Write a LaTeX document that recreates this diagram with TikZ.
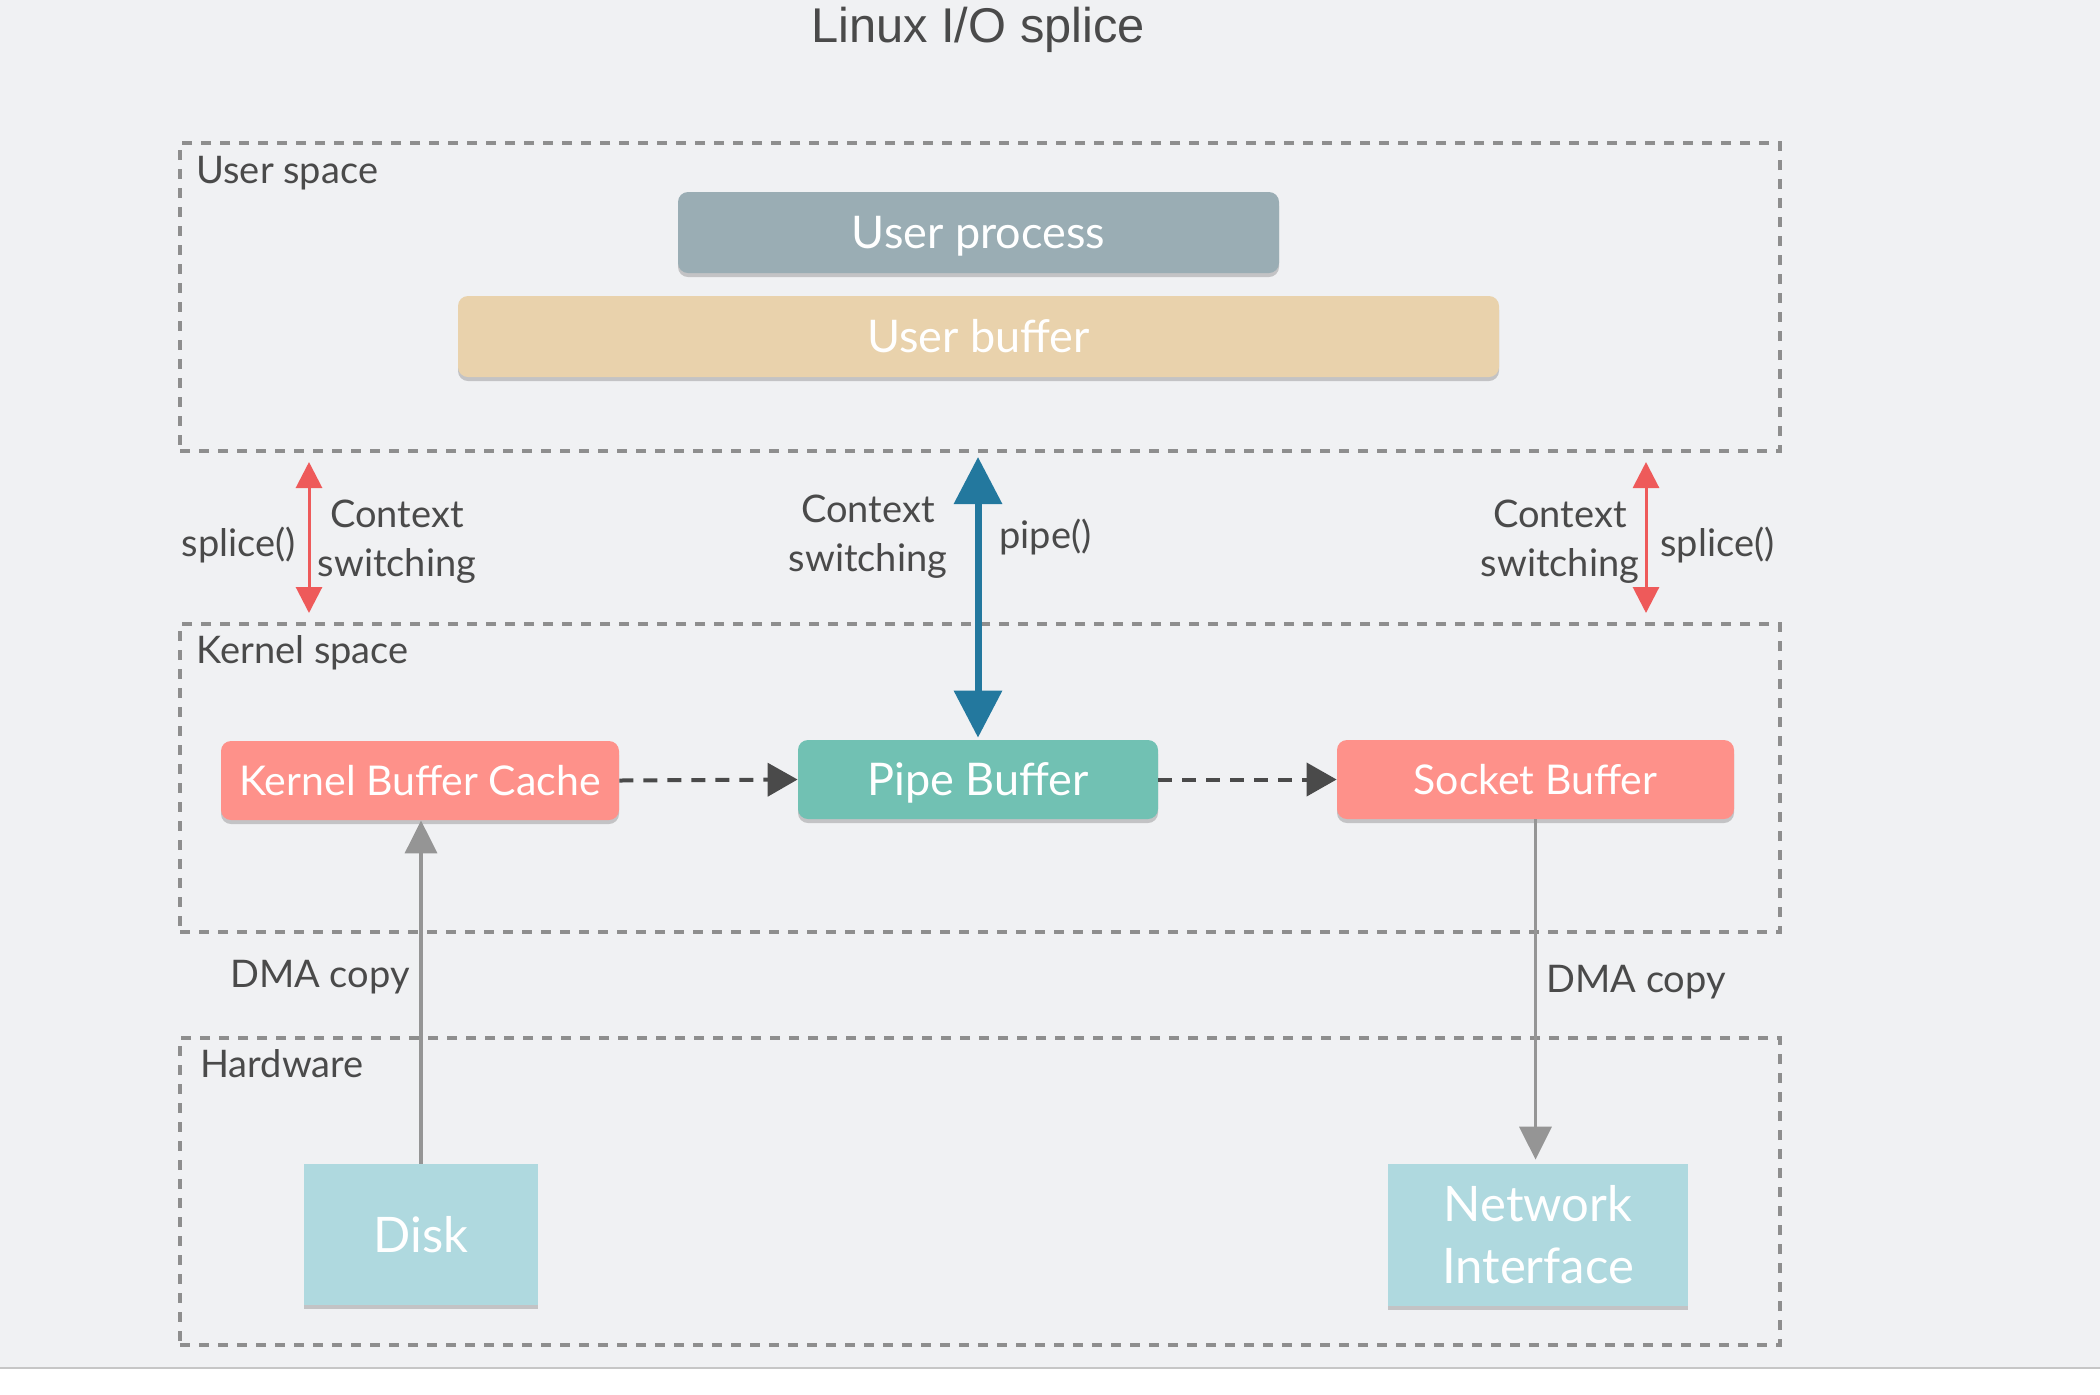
\documentclass[tikz,border=0pt]{standalone}
\usepackage{fontspec}
\setmainfont{Lato}
\newfontfamily\titlefont{Liberation Sans}
\usetikzlibrary{arrows.meta,shadows}

\definecolor{bgcol}{HTML}{F0F1F3}
\definecolor{framecol}{HTML}{8E8E8E}
\definecolor{txtcol}{HTML}{4A4A4A}
\definecolor{procol}{HTML}{9AADB4}
\definecolor{ubufcol}{HTML}{E9D2AC}
\definecolor{kbufcol}{HTML}{FE918A}
\definecolor{pipecol}{HTML}{71C1B3}
\definecolor{hwcol}{HTML}{AFD9DF}
\definecolor{ctxcol}{HTML}{EE5A5A}
\definecolor{pipearrcol}{HTML}{23789E}
\definecolor{dmacol}{HTML}{959595}
\definecolor{flowcol}{HTML}{4A4A4A}

\tikzset{
  region/.style={draw=framecol, line width=2pt, dash pattern=on 5pt off 4.5pt,
    anchor=north west, inner sep=0pt},
  lbl/.style={text=txtcol, font=\fontsize{19}{24.5}\selectfont, inner sep=0pt},
  box/.style={rounded corners=5pt, text=white, inner sep=0pt,
    text height=14.7pt, text depth=0pt,
    font=\fontsize{20.5}{24}\selectfont,
    drop shadow={shadow xshift=0pt, shadow yshift=-2pt, opacity=0.4}},
  bigbox/.style={box, text height=16.1pt, font=\fontsize{22.5}{26}\selectfont},
  hwbox/.style={fill=hwcol, text=white, inner sep=0pt, align=center,
    font=\fontsize{24.5}{31}\selectfont,
    drop shadow={shadow xshift=0pt, shadow yshift=-2pt, opacity=0.4}},
  ctxarrow/.style={ctxcol, line width=1.5pt,
    {Triangle[width=13pt,length=13pt]}-{Triangle[width=13pt,length=13pt]}},
  pipearrow/.style={pipearrcol, line width=3.5pt,
    {Triangle[width=23.5pt,length=23.5pt]}-{Triangle[width=23.5pt,length=23.5pt]}},
  dma/.style={dmacol, line width=1.75pt, -{Triangle[width=16pt,length=16.5pt]}},
  flow/.style={flowcol, line width=2pt, dash pattern=on 7pt off 5pt,
    -{Triangle[width=16.5pt,length=15pt]}}
}

\begin{document}
\begin{tikzpicture}

\newcommand\X{0.5pt}
\newcommand\Y{-0.5pt}

\useasboundingbox (0,0) rectangle (2100*\X, 1394*\Y);
\fill[bgcol] (0,0) rectangle (2100*\X, 1368*\Y);
\draw[gray!45, line width=0.75pt] (0, 1368*\Y) -- (2100*\X, 1368*\Y);

\node[anchor=base, text=txtcol, inner sep=0pt, font=\titlefont\fontsize{24.4}{28}\selectfont]
  (title) at (978*\X, 42*\Y) {Linux I/O splice};

%% regions
\node[region, minimum width=1600*\X, minimum height=308*\X] (user) at (178*\X, 141*\Y) {};
\node[region, minimum width=1600*\X, minimum height=308*\X] (kernel) at (178*\X, 622*\Y) {};
\node[region, minimum width=1600*\X, minimum height=307*\X] (hw) at (178*\X, 1036*\Y) {};

\node[lbl, anchor=base west] (userlbl) at (196*\X, 183*\Y) {User space};
\node[lbl, anchor=base west] (kernellbl) at (196*\X, 663*\Y) {Kernel space};
\node[lbl, anchor=base west] (hwlbl) at (200*\X, 1077*\Y) {Hardware};

%% user space
\node[bigbox, fill=procol, minimum width=601*\X, minimum height=81*\X] (proc) at (978.5*\X, 232.5*\Y) {User process};
\node[bigbox, fill=ubufcol, minimum width=1041*\X, minimum height=81*\X] (ubuf) at (978.5*\X, 336.5*\Y) {User buffer};

%% kernel space
\node[box, fill=kbufcol, minimum width=398*\X, minimum height=79*\X] (kbc) at (420*\X, 780.5*\Y) {Kernel Buffer Cache};
\node[bigbox, fill=pipecol, minimum width=360*\X, minimum height=79*\X] (pipe) at (978*\X, 779.5*\Y) {Pipe Buffer};
\node[box, fill=kbufcol, minimum width=397*\X, minimum height=79*\X] (socket) at (1535.5*\X, 779.5*\Y) {Socket Buffer};

%% hardware
\node[hwbox, minimum width=234*\X, minimum height=141*\X] (disk) at (421*\X, 1234.5*\Y) {Disk};
\node[hwbox, minimum width=300*\X, minimum height=142*\X] (nic) at (1538*\X, 1235*\Y) {Network\\Interface};

%% context switches
\coordinate (lsw) at (309*\X, 0);
\coordinate (rsw) at (1646*\X, 0);

\draw[ctxarrow, shorten <=4.5pt, shorten >=4.5pt] (user.south -| lsw) -- (kernel.north -| lsw);
\draw[ctxarrow, shorten <=4.5pt, shorten >=4.5pt] (user.south -| rsw) -- (kernel.north -| rsw);
\draw[pipearrow, shorten <=1pt, shorten >=2pt] (pipe.north) -- (pipe.north |- user.south);

\node[lbl, anchor=east] (lsplice) at (296*\X, 545*\Y) {splice()};
\node[lbl, align=center] (lctx) at (397*\X, 542*\Y) {Context\\switching};
\node[lbl, align=center] (mctx) at (868*\X, 537*\Y) {Context\\switching};
\node[lbl, anchor=west] (pipecall) at (999*\X, 537*\Y) {pipe()};
\node[lbl, align=center] (rctx) at (1560*\X, 542*\Y) {Context\\switching};
\node[lbl, anchor=west] (rsplice) at (1660*\X, 545*\Y) {splice()};

%% data flow
\draw[flow] (kbc.east) -- (pipe.west);
\draw[flow] (pipe.east) -- (socket.west);

\draw[dma] (disk.north) -- (disk.north |- kbc.south);
\draw[dma, shorten >=2pt] (socket.south) -- (socket.south |- nic.north);

\node[lbl, anchor=base east] (ldma) at (410*\X, 987*\Y) {DMA copy};
\node[lbl, anchor=base west] (rdma) at (1546*\X, 992*\Y) {DMA copy};

\end{tikzpicture}
\end{document}
